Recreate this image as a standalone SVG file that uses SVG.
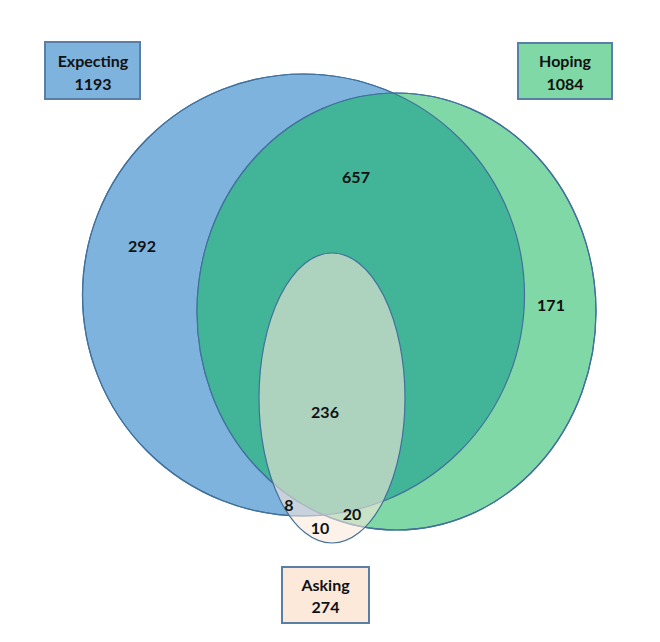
<svg xmlns="http://www.w3.org/2000/svg" width="660" height="642" viewBox="0 0 660 642">
<style>
.lbl{font-family:Lato,"Open Sans","Liberation Sans",sans-serif;font-weight:bold;font-size:16px;fill:#111;text-anchor:middle}
.edge{stroke:#41719C;stroke-width:1.2}
.box{stroke:#5A7FA6;stroke-width:2}
</style>
<defs>
<clipPath id="clipBlue"><circle cx="303.5" cy="295" r="221"/></clipPath>
</defs>
<rect width="660" height="642" fill="#fff"/>
<g id="sets">
<g id="expecting">
<circle cx="303.5" cy="295" r="221" fill="#7EB3DD" class="edge"/>
</g>
<g id="hoping">
<ellipse cx="396.5" cy="311.5" rx="199.5" ry="218.5" fill="#80D8A6" class="edge"/>
<ellipse cx="396.5" cy="311.5" rx="199.5" ry="218.5" fill="#42B497" clip-path="url(#clipBlue)"/>
<circle cx="303.5" cy="295" r="221" fill="none" class="edge"/>
<ellipse cx="396.5" cy="311.5" rx="199.5" ry="218.5" fill="none" class="edge"/>
</g>
<g id="asking">
<ellipse cx="332" cy="398" rx="73" ry="145" fill="#FCE8DA" fill-opacity="0.58" class="edge"/>
</g>
</g>
<g id="region-labels">
<text class="lbl" x="142" y="252">292</text>
<text class="lbl" x="356" y="183">657</text>
<text class="lbl" x="551" y="311">171</text>
<text class="lbl" x="325" y="418">236</text>
<text class="lbl" x="289" y="511">8</text>
<text class="lbl" x="352" y="520">20</text>
<text class="lbl" x="320" y="534">10</text>
</g>
<g id="legend-expecting">
<rect x="45" y="42" width="95" height="57" fill="#7EB3DD" class="box"/>
<text class="lbl" x="93" y="67">Expecting</text>
<text class="lbl" x="93" y="90">1193</text>
</g>
<g id="legend-hoping">
<rect x="518" y="43" width="94" height="56" fill="#80D8A6" class="box"/>
<text class="lbl" x="565" y="67">Hoping</text>
<text class="lbl" x="565" y="90">1084</text>
</g>
<g id="legend-asking">
<rect x="282" y="567" width="87" height="56" fill="#FCE9DA" class="box"/>
<text class="lbl" x="325.5" y="591">Asking</text>
<text class="lbl" x="325.5" y="613">274</text>
</g>
</svg>
